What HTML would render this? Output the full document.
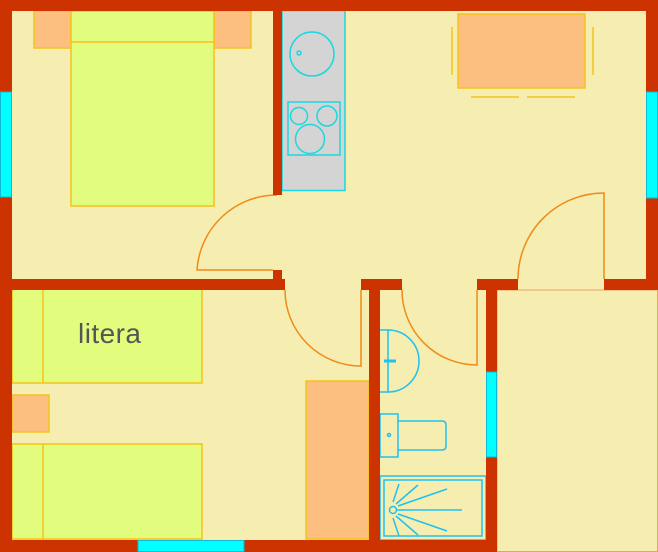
<!DOCTYPE html>
<html><head><meta charset="utf-8"><style>html,body{margin:0;padding:0;background:#f5eeb0}svg{display:block}</style></head>
<body>
<svg width="658" height="552" viewBox="0 0 658 552" xmlns="http://www.w3.org/2000/svg">
<rect x="0" y="0" width="658" height="552" fill="#f5eeb0"/>
<rect x="497" y="290" width="160.5" height="261.5" fill="#f5eeb0" stroke="#f0a060" stroke-width="1"/>
<g fill="#fdbf80" stroke="#f5c21b" stroke-width="1.5">
<rect x="34" y="11" width="37" height="37"/>
<rect x="214" y="11" width="37" height="37"/>
<rect x="458" y="14" width="127" height="74"/>
<rect x="12" y="395" width="37" height="37"/>
<rect x="306" y="381" width="63" height="158"/>
</g>
<g stroke="#f5c21b" stroke-width="1.5">
<line x1="452" y1="27" x2="452" y2="75"/><line x1="593" y1="27" x2="593" y2="75"/>
<line x1="471" y1="97" x2="519" y2="97"/><line x1="527" y1="97" x2="575" y2="97"/>
</g>
<g fill="#e2fd7d" stroke="#f5c21b" stroke-width="1.5">
<rect x="71" y="11" width="143" height="195"/>
<line x1="71" y1="42" x2="214" y2="42"/>
<rect x="12" y="289" width="190" height="94"/>
<line x1="43" y1="289" x2="43" y2="383"/>
<rect x="12" y="444" width="190" height="95"/>
<line x1="43" y1="444" x2="43" y2="539"/>
</g>
<text x="78" y="343" font-family="Liberation Sans, Arial, sans-serif" font-size="28" fill="#555555" textLength="63">litera</text>
<!-- kitchen -->
<g stroke="#18d8e0" stroke-width="1.5" fill="none">
<rect x="282" y="10.5" width="63" height="180" fill="#d4d4d4"/>
<circle cx="312" cy="54" r="22"/><circle cx="299" cy="53" r="2"/>
<rect x="288" y="102" width="52" height="53"/>
<circle cx="299" cy="116" r="8.5"/><circle cx="327" cy="116" r="10"/><circle cx="310" cy="139" r="14.5"/>
</g>
<!-- bathroom -->
<g stroke="#20c0f0" stroke-width="1.5" fill="none">
<line x1="380" y1="330" x2="388" y2="330"/><line x1="380" y1="392" x2="388" y2="392"/>
<path d="M388 330 A31 31 0 0 1 388 392 Z"/>
<line x1="384" y1="361" x2="396" y2="361" stroke-width="3"/>
<rect x="380" y="414" width="18" height="43"/>
<path d="M398 421 H442 Q446 421 446 425 V446 Q446 450 442 450 H398"/>
<circle cx="389" cy="435" r="1.5"/>
<rect x="380" y="476" width="106" height="64"/>
<rect x="384" y="480" width="98" height="56"/>
<circle cx="393" cy="510" r="3.5"/>
<line x1="397" y1="510" x2="462" y2="510"/>
<line x1="398" y1="506" x2="447" y2="489"/><line x1="398" y1="514" x2="447" y2="531"/>
<line x1="396" y1="504" x2="418" y2="485"/><line x1="396" y1="516" x2="418" y2="535"/>
<line x1="393" y1="502" x2="399" y2="484"/><line x1="393" y1="518" x2="399" y2="536"/>
</g>
<!-- doors -->
<g stroke="#f08a18" stroke-width="1.5" fill="none">
<path d="M277 195 A80 80 0 0 0 197 270 H273"/>
<path d="M285 290 A76 76 0 0 0 361 366 V290"/>
<path d="M402 290 A75 75 0 0 0 477 365 V290"/>
<path d="M518 279 A86 86 0 0 1 604 193 V279"/>
</g>
<!-- walls -->
<g fill="#cc3300">
<rect x="0" y="0" width="658" height="11"/>
<rect x="0" y="0" width="12" height="552"/>
<rect x="646" y="0" width="12" height="290"/>
<rect x="0" y="540" width="497" height="12"/>
<rect x="273" y="0" width="9" height="195"/>
<rect x="273" y="270" width="9" height="10"/>
<rect x="0" y="279" width="285" height="11"/>
<rect x="361" y="279" width="41" height="11"/>
<rect x="369" y="279" width="11" height="273"/>
<rect x="477" y="279" width="41" height="11"/>
<rect x="486" y="279" width="11" height="273"/>
<rect x="604" y="279" width="54" height="11"/>
</g>
<!-- windows -->
<g fill="#00ffff" stroke="#10b8d8" stroke-width="1">
<rect x="0.5" y="92" width="11" height="105"/>
<rect x="646.5" y="92" width="11" height="106"/>
<rect x="486.5" y="372" width="10" height="85"/>
<rect x="138" y="540.5" width="106" height="11"/>
</g>
</svg>
</body></html>
